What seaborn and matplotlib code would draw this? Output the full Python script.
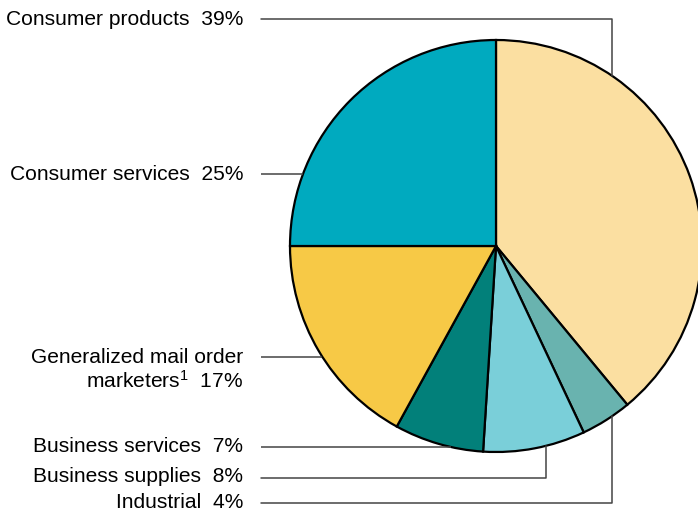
import numpy as np
import matplotlib
matplotlib.use("Agg")
import matplotlib.pyplot as plt
import seaborn as sns

# ---- data ----
categories = ["Consumer products", "Industrial", "Business supplies",
              "Business services", "Generalized mail order\nmarketers$^{1}$", "Consumer services"]
shares = [39, 4, 8, 7, 17, 25]
colors = ["#FBDFA1", "#69B3AF", "#7ACFD9", "#02807A", "#F7C946", "#00AABF"]
label_text = ["Consumer products  39%", "Industrial  4%", "Business supplies  8%",
              "Business services  7%", "Generalized mail order\nmarketers$^{1}$  17%",
              "Consumer services  25%"]

sns.set_theme(style="white")
plt.rcParams["font.family"] = ["Liberation Sans", "DejaVu Sans"]
plt.rcParams["mathtext.default"] = "regular"

W, H = 698, 511
fig = plt.figure(figsize=(W / 100, H / 100), dpi=100)
ax = fig.add_axes([0, 0, 1, 1])
ax.set_xlim(0, W)
ax.set_ylim(0, H)
ax.set_aspect("equal")
ax.axis("off")

cx, cy, R = 496, H - 246, 206
ax.pie(shares, colors=colors, startangle=90, counterclock=False,
       center=(cx, cy), radius=R, frame=True,
       wedgeprops=dict(edgecolor="black", linewidth=1.6))
ax.set_xlim(0, W)
ax.set_ylim(0, H)
ax.axis("off")

lc = "#444444"
lw = 1.1
tx = 243      # right edge of labels
lx0 = 261     # start of leader lines
fs = 15.1

def edge_x(y):
    dy = y - cy
    return cx - np.sqrt(R**2 - dy**2)

def edge_y(x, top=True):
    dx = x - cx
    d = np.sqrt(R**2 - dx**2)
    return cy + d if top else cy - d

# label rows: (text index, text y in px from top, line y px, route)
rows = [
    (0, 19, 19, ("vert_top", 612)),
    (5, 174, 174, ("horiz", None)),
    (4, 370, 357, ("horiz", None)),
    (3, 446, 447, ("horiz", None)),
    (2, 477, 478, ("vert_bot", 546)),
    (1, 502, 503, ("vert_bot", 612)),
]

for idx, ty, ly, (kind, vx) in rows:
    ax.text(tx, H - ty, label_text[idx], ha="right", va="center", fontsize=fs,
            color="black", multialignment="right", linespacing=1.15)
    yy = H - ly
    if kind == "horiz":
        ax.plot([lx0, edge_x(yy)], [yy, yy], color=lc, lw=lw, solid_capstyle="butt")
    elif kind == "vert_top":
        ax.plot([lx0, vx, vx], [yy, yy, edge_y(vx, top=True)], color=lc, lw=lw)
    else:
        ax.plot([lx0, vx, vx], [yy, yy, edge_y(vx, top=False)], color=lc, lw=lw)

fig.savefig("out.png", dpi=100)
